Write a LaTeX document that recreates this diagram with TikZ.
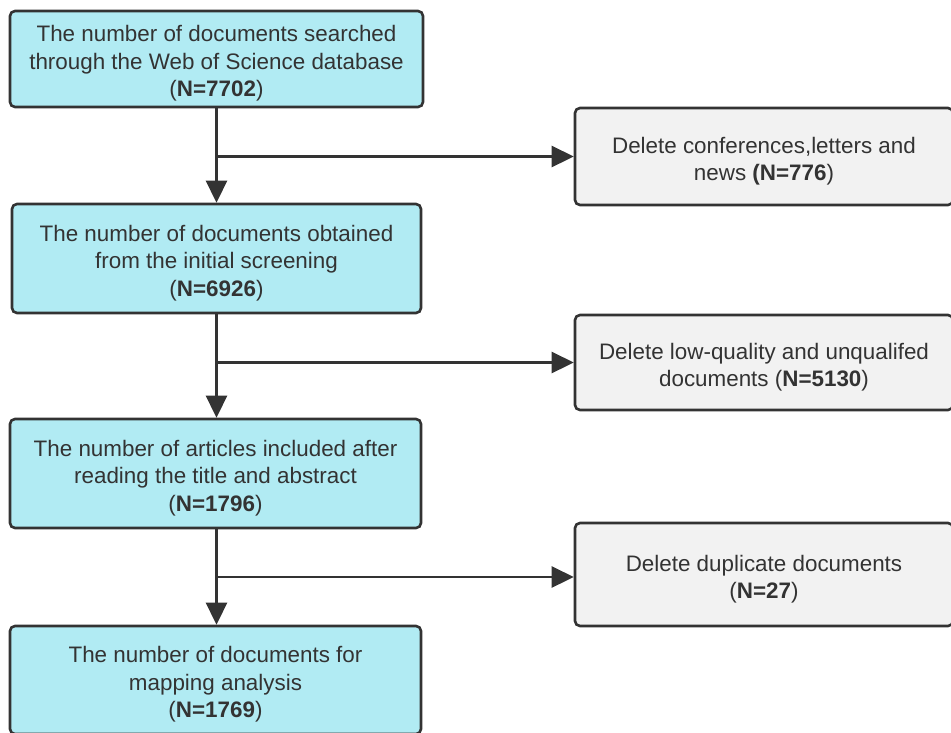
\documentclass[tikz,border=0pt]{standalone}
\usepackage{fontspec}
\setmainfont{Liberation Sans}
\usetikzlibrary{arrows.meta}
\definecolor{boxcyan}{HTML}{B1EBF3}
\definecolor{boxgray}{HTML}{F2F2F2}
\definecolor{ink}{HTML}{333333}
\newcommand{\toppad}{\rule{0pt}{25.5pt}}
\tikzset{
  boxbase/.style={draw=ink, line width=2.6pt, rounded corners=5pt, align=center,
    text=ink, font=\fontsize{22.4}{27.5}\selectfont, inner sep=0pt},
  mainbox/.style={boxbase, fill=boxcyan},
  sidebox/.style={boxbase, fill=boxgray},
  flow/.style={draw=ink, line width=2.6pt, -{Triangle[length=22pt,width=21pt]}}
}
\begin{document}
\begin{tikzpicture}[x=1pt,y=-1pt]
\useasboundingbox (0,0) rectangle (951,732);
\clip (0,0) rectangle (951,732);
\fill[white] (0,0) rectangle (951,732);
\node[mainbox, minimum width=413pt, minimum height=96pt] (b1) at (216.5,59)
  {\toppad The number of documents searched\\through the Web of Science database\\(\textbf{N=7702})};
\node[mainbox, minimum width=409pt, minimum height=109pt] (b2) at (216.5,258.5)
  {\toppad The number of documents obtained\\from the initial screening\\(\textbf{N=6926})};
\node[mainbox, minimum width=411pt, minimum height=109pt] (b3) at (215.5,473.5)
  {\toppad The number of articles included after\\reading the title and abstract\\(\textbf{N=1796})};
\node[mainbox, minimum width=411pt, minimum height=108pt] (b4) at (215.5,680)
  {\toppad The number of documents for\\mapping analysis\\(\textbf{N=1769})};
\node[sidebox, minimum width=378pt, minimum height=97pt] (r1) at (764,156.5)
  {\toppad Delete conferences,letters and\\news \textbf{(N=776})};
\node[sidebox, minimum width=378pt, minimum height=95pt] (r2) at (764,362.5)
  {\toppad Delete low-quality and unqualifed\\documents (\textbf{N=5130})};
\node[sidebox, minimum width=378pt, minimum height=103pt] (r3) at (764,574.5)
  {\toppad Delete duplicate documents\\(\textbf{N=27})};
\coordinate (j1) at (216.5,156.5);
\coordinate (j2) at (216.5,362.5);
\coordinate (j3) at (216.5,577);
\draw[flow] (b1.south -| j1) -- (b2.north -| j1);
\draw[flow] (b2.south -| j2) -- (b3.north -| j2);
\draw[flow] (b3.south -| j3) -- (b4.north -| j3);
\draw[flow] (j1) -- (r1.west |- j1);
\draw[flow] (j2) -- (r2.west |- j2);
\draw[flow] (j3) -- (r3.west |- j3);
\end{tikzpicture}
\end{document}
